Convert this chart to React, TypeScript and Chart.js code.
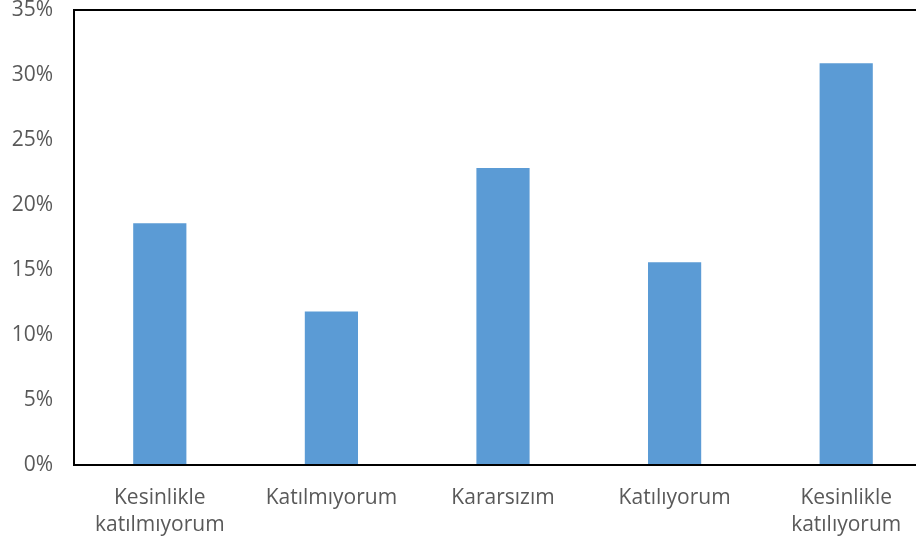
import React, { useEffect, useRef } from "react";
import { Chart, registerables } from "chart.js";

Chart.register(...registerables);

const categories: (string | string[])[] = [
  ["Kesinlikle", "katılmıyorum"],
  "Katılmıyorum",
  "Kararsızım",
  "Katılıyorum",
  ["Kesinlikle", "katılıyorum"],
];
const values: number[] = [18.6, 11.8, 22.85, 15.6, 30.9];
const yMin = 0;
const yMax = 35;
const yStep = 5;

const borderPlugin = {
  id: "plotBorder",
  afterDraw(chart: any) {
    const { ctx, chartArea } = chart;
    const { left, top, right, bottom } = chartArea;
    ctx.save();
    ctx.strokeStyle = "#000000";
    ctx.lineWidth = 2;
    ctx.beginPath();
    ctx.moveTo(right, top);
    ctx.lineTo(left, top);
    ctx.lineTo(left, bottom);
    ctx.lineTo(right, bottom);
    ctx.stroke();
    ctx.restore();
  },
};

export default function App() {
  const ref = useRef<HTMLCanvasElement | null>(null);
  useEffect(() => {
    document.body.style.margin = "0";
    document.body.style.overflow = "hidden";
    const canvas = ref.current;
    if (!canvas) return;
    const font = { family: "'Open Sans', sans-serif", size: 21, lineHeight: 1.3 };
    const chart = new Chart(canvas, {
      type: "bar",
      data: {
        labels: categories,
        datasets: [
          {
            data: values,
            backgroundColor: "#5B9BD5",
            borderWidth: 0,
            categoryPercentage: 1,
            barPercentage: 0.31,
          },
        ],
      },
      plugins: [borderPlugin],
      options: {
        responsive: false,
        animation: false,
        devicePixelRatio: 1,
        layout: { padding: { top: 10, left: 0, right: 0, bottom: 0 } },
        plugins: { legend: { display: false }, tooltip: { enabled: false } },
        scales: {
          x: {
            grid: { display: false, drawTicks: false },
            border: { display: false },
            ticks: { color: "#595959", font, padding: 19, maxRotation: 0, autoSkip: false },
            afterFit: (scale: any) => {
              scale.height = 82;
              scale.paddingTop = 0;
              scale.paddingBottom = 0;
            },
          },
          y: {
            min: yMin,
            max: yMax,
            grid: { display: false, drawTicks: false },
            border: { display: false },
            ticks: {
              stepSize: yStep,
              color: "#595959",
              font: { family: "'Open Sans', sans-serif", size: 21 },
              padding: 21,
              callback: (v: any) => `${v}%`,
            },
            afterFit: (scale: any) => {
              scale.width = 74;
              scale.paddingTop = 0;
              scale.paddingBottom = 0;
            },
          },
        },
      },
    });
    return () => chart.destroy();
  }, []);
  return (
    <div style={{ position: "absolute", left: 0, top: 0, width: 932, height: 547 }}>
      <canvas ref={ref} width={932} height={547} style={{ display: "block" }} />
    </div>
  );
}
